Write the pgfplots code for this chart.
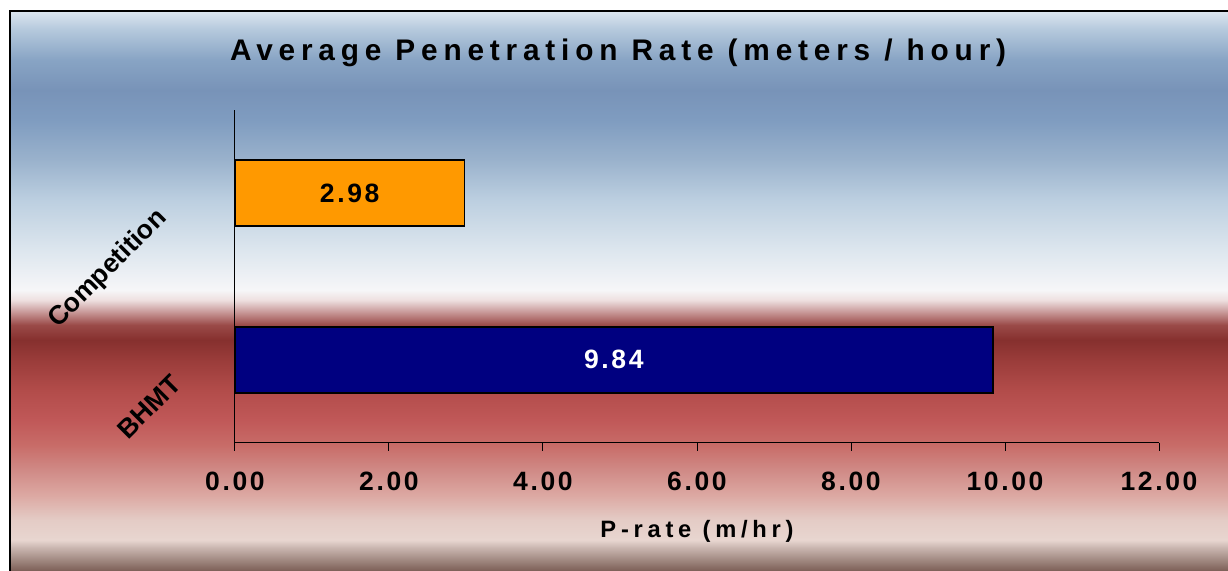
\documentclass[border=0pt]{standalone}
\usepackage{pgfplots}
\pgfplotsset{compat=1.18}
\usepackage{fontspec}
\setmainfont{Liberation Sans}
\newfontfamily\titlefont[LetterSpace=19.5]{Liberation Sans}
\newfontfamily\tickfont[LetterSpace=10]{Liberation Sans}
\newfontfamily\labfont[LetterSpace=20]{Liberation Sans}
\usetikzlibrary{calc}

\definecolor{s00}{HTML}{7C5E56}
\definecolor{s01}{HTML}{A08880}
\definecolor{s02}{HTML}{C8B4AE}
\definecolor{s03}{HTML}{E8D6D0}
\definecolor{s04}{HTML}{E4CCC6}
\definecolor{s05}{HTML}{DCA8A2}
\definecolor{s06}{HTML}{D08A86}
\definecolor{s07}{HTML}{C86C68}
\definecolor{s08}{HTML}{C05858}
\definecolor{s09}{HTML}{B24C4A}
\definecolor{s10}{HTML}{9A3C3A}
\definecolor{s11}{HTML}{86302E}
\definecolor{s12}{HTML}{9A4A48}
\definecolor{s13}{HTML}{C89898}
\definecolor{s14}{HTML}{EEE0E0}
\definecolor{s15}{HTML}{F6F6F8}
\definecolor{s16}{HTML}{DDE6EE}
\definecolor{s17}{HTML}{BCCFE0}
\definecolor{s18}{HTML}{9AB2CC}
\definecolor{s19}{HTML}{7F9CC0}
\definecolor{s20}{HTML}{7893B8}
\definecolor{s21}{HTML}{88A4C4}
\definecolor{s22}{HTML}{B4C8DC}
\definecolor{s23}{HTML}{DCE6EF}
\definecolor{barorange}{HTML}{FF9900}
\definecolor{barnavy}{HTML}{000080}

\pgfdeclareverticalshading{bgshade}{100bp}{%
color(0bp)=(s00); color(25bp)=(s00); color(25.98bp)=(s01); color(27.05bp)=(s02); color(27.77bp)=(s03);
color(29.55bp)=(s04); color(31.79bp)=(s05); color(34.02bp)=(s06); color(36.25bp)=(s07);
color(38.48bp)=(s08); color(41.16bp)=(s09); color(43.84bp)=(s10); color(45.63bp)=(s11);
color(46.96bp)=(s12); color(48.13bp)=(s13); color(49.20bp)=(s14); color(50.09bp)=(s15);
color(53.66bp)=(s16); color(58.13bp)=(s17); color(61.70bp)=(s18); color(65.27bp)=(s19);
color(67.95bp)=(s20); color(70.63bp)=(s21); color(73.30bp)=(s22); color(75bp)=(s23); color(100bp)=(s23)}

\begin{document}
\begin{tikzpicture}
\path[use as bounding box] (0pt,0pt) rectangle (614pt,285.5pt);
\shade[shading=bgshade] (5pt,0pt) rectangle (614pt,280pt);
\draw[line width=1.2pt] (5pt,0pt) -- (5pt,280pt) -- (614pt,280pt);

\node[anchor=base west, font=\titlefont\bfseries\fontsize{14.9}{16}\selectfont]
  at (111.5pt,255pt) {Average Penetration Rate (meters / hour)};

\begin{axis}[
  at={(117.5pt,64pt)}, anchor=south west,
  scale only axis, width=462pt, height=166.5pt,
  xmin=0, xmax=12, ymin=-0.5, ymax=1.5,
  axis x line*=bottom, axis y line*=left,
  axis line style={line width=0.5pt},
  xtick={0,2,4,6,8,10,12}, ytick=\empty,
  tick align=outside, major tick length=4pt,
  tick style={black, line width=0.5pt},
  xticklabel={\pgfmathprintnumber[fixed,fixed zerofill,precision=2]{\tick}},
  /pgf/number format/assume math mode=true,
  xticklabel style={font=\tickfont\bfseries\fontsize{13.25}{15}\selectfont, anchor=base, yshift=-20pt},
  xlabel={P-rate (m/hr)},
  xlabel style={font=\labfont\bfseries\fontsize{11.85}{14}\selectfont, at={(axis description cs:0.5,0)}, anchor=base, yshift=-47.5pt},
  clip=false,
]
\addplot[xbar, bar width=33pt, bar shift=0pt, fill=barorange, draw=black, line width=0.9pt,
  point meta=x, nodes near coords={\pgfmathprintnumber[fixed,fixed zerofill,precision=2]{\pgfplotspointmeta}},
  visualization depends on={x \as \rawx},
  every node near coord/.append style={anchor=center, black, font=\tickfont\bfseries\fontsize{13.25}{15}\selectfont, shift={(axis direction cs:-\rawx/2,0)}}]
  coordinates {(2.98,1)};
\addplot[xbar, bar width=33pt, bar shift=0pt, fill=barnavy, draw=black, line width=0.9pt,
  point meta=x, nodes near coords={\pgfmathprintnumber[fixed,fixed zerofill,precision=2]{\pgfplotspointmeta}},
  visualization depends on={x \as \rawx},
  every node near coord/.append style={anchor=center, white, font=\tickfont\bfseries\fontsize{13.25}{15}\selectfont, shift={(axis direction cs:-\rawx/2,0)}}]
  coordinates {(9.84,0)};
\node[rotate=45, font=\bfseries\fontsize{13.25}{15}\selectfont] at ($(axis cs:0,1)+(-63.5pt,-38pt)$) {Competition};
\node[rotate=45, font=\bfseries\fontsize{13.25}{15}\selectfont] at ($(axis cs:0,0)+(-43pt,-23.5pt)$) {BHMT};
\end{axis}
\end{tikzpicture}
\end{document}
